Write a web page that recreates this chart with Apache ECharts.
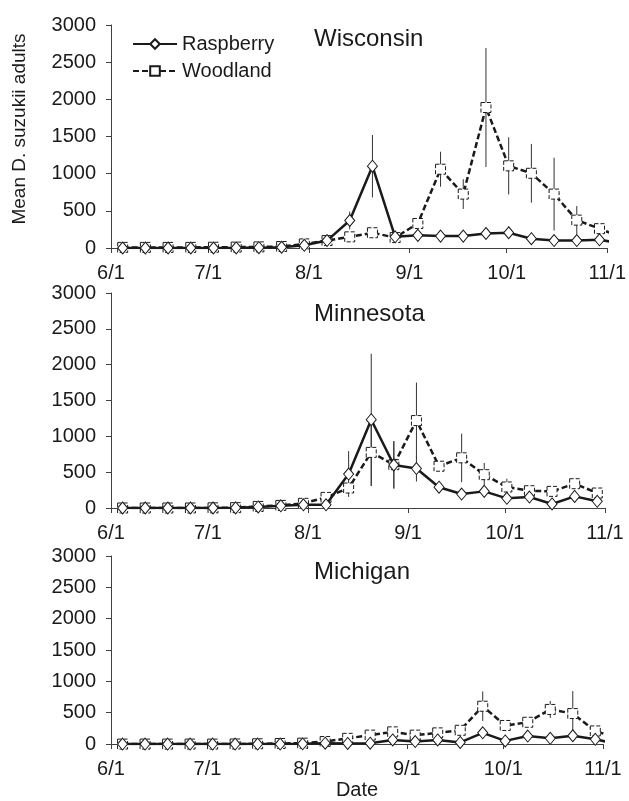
<!DOCTYPE html>
<html>
<head>
<meta charset="utf-8">
<script src="https://cdn.jsdelivr.net/npm/echarts@6/dist/echarts.min.js"></script>
<style>
  html, body { margin: 0; padding: 0; background: #fff; }
  #main { width: 629px; height: 801px; }
</style>
</head>
<body>
<div id="main"></div>
<script>
// sample dates as days since 6/1 (weekly traps)
const sampleDays = [3.6, 10.6, 17.6, 24.6, 31.6, 38.6, 45.6, 52.6, 59.6, 66.6, 73.6, 80.6,
  87.6, 94.6, 101.6, 108.6, 115.6, 122.6, 129.6, 136.6, 143.6, 150.6, 157.6];
const tickDays = [0, 30, 61, 92, 122, 153];
const tickLabels = ['6/1', '7/1', '8/1', '9/1', '10/1', '11/1'];
const states = ['Wisconsin', 'Minnesota', 'Michigan'];

// Wisconsin
const wiRasp = [0, 0, 0, 0, 0, 2, 5, 10, 36, 100, 370, 1100, 150, 170, 160, 160, 195, 205, 125, 100, 100, 110, 60];
const wiWood = [8, 8, 8, 8, 10, 12, 15, 20, 55, 100, 150, 205, 140, 330, 1060, 725, 1890, 1105, 1005, 725, 375, 260, 140];
const wiRaspErr = [0, 0, 0, 0, 0, 0, 0, 0, 0, 0, 120, 420, 0, 0, 0, 0, 30, 50, 0, 0, 0, 0, 0];
const wiWoodErr = [0, 0, 0, 0, 0, 0, 0, 0, 0, 0, 0, 0, 0, 60, 235, 200, 800, 385, 395, 490, 190, 60, 0];

// Minnesota
const mnRasp = [0, 0, 0, 0, 0, 2, 15, 30, 45, 45, 474, 1232, 600, 550, 290, 195, 232, 135, 153, 56, 162, 93];
const mnWood = [0, 0, 0, 0, 2, 5, 22, 36, 65, 148, 279, 776, 604, 1220, 583, 700, 465, 293, 241, 232, 339, 209];
const mnRaspErr = [0, 0, 0, 0, 0, 0, 0, 0, 0, 0, 320, 920, 330, 180, 50, 40, 40, 0, 0, 0, 0, 0];
const mnWoodErr = [0, 0, 0, 0, 0, 0, 0, 0, 0, 0, 40, 470, 330, 530, 0, 338, 163, 116, 50, 0, 60, 0];

// Michigan
const miRasp = [0, 0, 0, 0, 0, 0, 0, 0, 5, 15, 10, 15, 66, 41, 66, 26, 180, 51, 128, 92, 133, 77, 0];
const miWood = [0, 0, 0, 0, 0, 2, 5, 10, 15, 41, 92, 143, 195, 143, 179, 220, 604, 297, 348, 553, 487, 210, 90];
const miRaspErr = [0, 0, 0, 0, 0, 0, 0, 0, 0, 0, 0, 0, 0, 0, 0, 0, 20, 0, 0, 0, 0, 0, 0];
const miWoodErr = [0, 0, 0, 0, 0, 0, 0, 0, 0, 0, 0, 0, 40, 0, 40, 50, 236, 0, 30, 136, 358, 30, 0];

const font = 'Liberation Sans, Arial, sans-serif';
const ink = '#1a1a1a';

const grids = [
  { left: 111, top: 25, width: 497, height: 223 },
  { left: 111, top: 293, width: 494, height: 215 },
  { left: 111, top: 556, width: 492, height: 195 }
];
const titleTops = [27, 302, 560];

function pairs(vals) {
  return vals.map(function (v, i) { return [sampleDays[i], v]; });
}
function errPairs(vals, errs) {
  const out = [];
  vals.forEach(function (v, i) {
    if (errs[i] > 0) out.push([sampleDays[i], Math.max(0, v - errs[i]), v + errs[i]]);
  });
  return out;
}
function errRender(params, api) {
  const a = api.coord([api.value(0), api.value(1)]);
  const b = api.coord([api.value(0), api.value(2)]);
  return {
    type: 'line',
    shape: { x1: a[0], y1: a[1], x2: b[0], y2: b[1] },
    style: { stroke: '#333', lineWidth: 1 }
  };
}

const panelData = [
  [wiRasp, wiWood, wiRaspErr, wiWoodErr],
  [mnRasp, mnWood, mnRaspErr, mnWoodErr],
  [miRasp, miWood, miRaspErr, miWoodErr]
];

const xAxes = [], yAxes = [], series = [];
panelData.forEach(function (d, i) {
  xAxes.push({
    gridIndex: i, type: 'value', min: 0, max: 153,
    axisLine: { lineStyle: { color: '#404040', width: 1 } },
    axisTick: { show: true, length: 5, customValues: tickDays, lineStyle: { color: '#404040' } },
    axisLabel: {
      customValues: tickDays, margin: 15, color: ink, fontSize: 20, fontFamily: font,
      formatter: function (v) { return tickLabels[tickDays.indexOf(v)]; }
    },
    splitLine: { show: false },
    name: i === 2 ? 'Date' : '', nameLocation: 'middle', nameGap: 31,
    nameTextStyle: { color: ink, fontSize: 20, fontFamily: font }
  });
  yAxes.push({
    gridIndex: i, type: 'value', min: 0, max: 3000, interval: 500,
    axisLine: { show: true, lineStyle: { color: '#404040', width: 1 } },
    axisTick: { show: true, length: 5, lineStyle: { color: '#404040' } },
    axisLabel: { margin: 15, color: ink, fontSize: 20, fontFamily: font,
      formatter: function (v) { return String(v); } },
    splitLine: { show: false }
  });
  series.push({
    type: 'custom', xAxisIndex: i, yAxisIndex: i, z: 1, silent: true,
    renderItem: errRender, data: errPairs(d[0], d[2])
  });
  series.push({
    type: 'custom', xAxisIndex: i, yAxisIndex: i, z: 1, silent: true,
    renderItem: errRender, data: errPairs(d[1], d[3])
  });
  series.push({
    name: 'Raspberry', type: 'line', xAxisIndex: i, yAxisIndex: i, z: 3,
    data: pairs(d[0]),
    symbol: 'diamond', symbolSize: [10, 12], showAllSymbol: true,
    lineStyle: { color: ink, width: 2.5 },
    itemStyle: { color: '#fff', borderColor: ink, borderWidth: 1 }
  });
  series.push({
    name: 'Woodland', type: 'line', xAxisIndex: i, yAxisIndex: i, z: 2,
    data: pairs(d[1]),
    symbol: 'rect', symbolSize: 10, showAllSymbol: true,
    lineStyle: { color: ink, width: 2.5, type: [6, 3] },
    itemStyle: { color: '#fff', borderColor: ink, borderWidth: 1, borderType: 'dashed' }
  });
});

const chart = echarts.init(document.getElementById('main'));
chart.setOption({
  animation: false,
  backgroundColor: '#fff',
  title: states.map(function (s, i) {
    return { text: s, left: 314, top: titleTops[i], padding: 0,
      textStyle: { color: ink, fontSize: 24, fontWeight: 'normal', fontFamily: font } };
  }),
  legend: {
    data: ['Raspberry', 'Woodland'], orient: 'vertical', left: 132, top: 34,
    itemWidth: 44, itemHeight: 12, itemGap: 7, padding: 0,
    textStyle: { color: ink, fontSize: 20, fontFamily: font }
  },
  graphic: [{
    type: 'text', x: 20, y: 129, rotation: Math.PI / 2,
    style: { text: 'Mean D. suzukii adults', fill: ink, fontSize: 19, fontFamily: font,
      align: 'center', verticalAlign: 'middle' }
  }],
  grid: grids,
  xAxis: xAxes,
  yAxis: yAxes,
  series: series
});
</script>
</body>
</html>
